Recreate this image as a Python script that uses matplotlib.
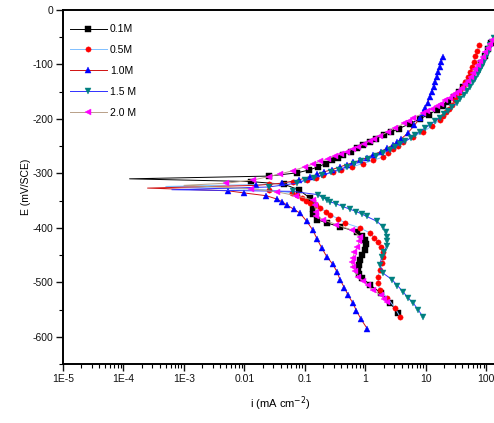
import numpy as np
import matplotlib
matplotlib.use("Agg")
import matplotlib.pyplot as plt
from matplotlib.ticker import FixedLocator, LogLocator, NullFormatter, MultipleLocator

plt.rcParams["font.family"] = ["Liberation Sans", "DejaVu Sans"]
plt.rcParams["axes.unicode_minus"] = False

# potential (mV/SCE) and current density (mA cm^-2),
# ordered from the cathodic end through E_corr to the anodic end
E_01 = [-556, -538, -519, -505, -492, -485, -477, -468, -459, -450, -440, -430, -422, -415,
        -407, -398, -391, -385, -375, -365, -354, -345, -330, -320, -315, -310,
        -305, -299, -294, -288, -282, -276, -271, -266, -260, -254, -248, -242, -236,
        -230, -224, -218, -209, -200, -192, -183, -176, -169, -160, -150, -142, -134,
        -122, -110, -97, -85, -72, -60]
i_01 = [3.47, 2.57, 1.78, 1.20, 0.89, 0.79, 0.76, 0.78, 0.83, 0.89, 1.00, 1.02, 1.00, 0.89,
        0.72, 0.38, 0.23, 0.16, 0.138, 0.135, 0.135, 0.12, 0.079, 0.045, 0.0126, 1.26e-4,
        0.025, 0.074, 0.115, 0.166, 0.22, 0.28, 0.35, 0.43, 0.57, 0.74, 0.93, 1.17, 1.50,
        2.0, 2.7, 3.55, 5.4, 7.9, 11.2, 15.1, 19.0, 22.9, 29.0, 35.5, 41.5, 47.9,
        59.0, 70.8, 82, 93.3, 107, 120]

E_05 = [-563, -547, -528, -514, -502, -490, -477, -464, -454, -444, -435, -426, -418, -409,
        -400, -391, -383, -376, -370, -363, -358, -354, -350, -345, -340, -336, -330, -324,
        -320, -316, -312, -308, -303, -298, -294, -288, -282, -276, -270, -263, -256,
        -249, -242, -233, -224, -213, -202, -195, -188, -181, -174, -166, -158, -150,
        -141, -132, -123, -114, -105, -95, -85, -75, -64]
i_05 = [3.72, 3.09, 2.29, 1.74, 1.62, 1.62, 1.74, 1.91, 1.95, 1.95, 1.82, 1.62, 1.41, 1.17,
        0.81, 0.46, 0.35, 0.26, 0.22, 0.178, 0.15, 0.12, 0.105, 0.089, 0.075, 0.062, 0.025, 5.0e-4,
        0.025, 0.063, 0.107, 0.15, 0.20, 0.29, 0.40, 0.60, 0.90, 1.35, 1.95, 2.4, 2.88,
        3.5, 4.17, 6.03, 8.91, 12.6, 17.0, 19.1, 21.4, 24.0, 26.9, 30.0, 33.1, 36.8,
        40.7, 44.7, 49.0, 53.0, 57.5, 61.7, 66.1, 71, 75.9]

E_10 = [-585, -568, -552, -538, -524, -510, -495, -481, -467, -453, -437, -420, -404, -388,
        -373, -366, -358, -352, -347, -341, -336, -332, -327,
        -322, -318, -312, -306, -302, -297, -293, -288, -284, -280, -276, -271, -266,
        -260, -254, -248, -243, -237, -226, -212, -198, -189, -180, -170, -159, -150,
        -141, -132, -123, -114, -105, -95, -86]
i_10 = [1.07, 0.85, 0.71, 0.62, 0.52, 0.45, 0.38, 0.34, 0.29, 0.23, 0.19, 0.158, 0.135, 0.107,
        0.083, 0.066, 0.050, 0.042, 0.034, 0.023, 0.010, 0.0054, 2.5e-4,
        0.0158, 0.042, 0.079, 0.12, 0.16, 0.21, 0.28, 0.38, 0.49, 0.63, 0.81, 1.05, 1.35,
        1.78, 2.25, 2.82, 3.3, 3.89, 5.01, 6.46, 7.94, 8.9, 9.77, 10.7, 11.7, 12.6,
        13.5, 14.3, 15.1, 16.0, 17.0, 18.0, 19.1]

E_15 = [-563, -550, -538, -528, -517, -506, -495, -483, -468, -453, -444, -434, -425, -416,
        -407, -398, -388, -379, -375, -370, -366, -361, -356, -352, -348, -345, -339, -333, -330,
        -325, -318, -313, -308, -303, -298, -293, -288, -283, -278, -273, -268, -263,
        -257, -252, -246, -241, -235, -230, -224, -217, -211, -204, -198, -191, -185,
        -178, -171, -163, -156, -148, -141, -133, -126, -118, -110, -102, -95, -87,
        -79, -72, -65, -58, -51]
i_15 = [8.91, 7.41, 6.17, 5.01, 4.17, 3.39, 2.75, 1.95, 1.74, 1.86, 2.04, 2.24, 2.29, 2.29,
        2.19, 1.95, 1.55, 1.05, 0.88, 0.71, 0.56, 0.43, 0.33, 0.26, 0.23, 0.20, 0.162, 0.063, 6.3e-4,
        0.025, 0.074, 0.10, 0.141, 0.195, 0.27, 0.36, 0.49, 0.64, 0.85, 1.12, 1.48, 1.95,
        2.51, 3.1, 3.80, 4.6, 5.62, 6.6, 7.94, 9.6, 11.7, 14.1, 17.0, 20.0, 23.4,
        27.5, 32.4, 37.2, 42.7, 48.0, 53.7, 60, 66.1, 72, 77.6, 84, 91.2, 98,
        105, 111, 117, 125, 132]

E_20 = [-536, -530, -523, -514, -505, -498, -490, -480, -471, -463, -455, -445, -435, -425,
        -416, -404, -394, -385, -379, -370, -358, -349, -341, -334, -328, -322,
        -318, -312, -306, -301, -295, -288, -283, -278, -273, -268, -264, -260, -255,
        -251, -246, -241, -236, -231, -224, -217, -208, -203, -198, -190, -186, -182,
        -177, -172, -166, -161, -156, -152, -148, -143, -136, -130, -123, -116, -108,
        -101, -93, -86, -78, -70, -62, -55]
i_20 = [2.29, 2.04, 1.78, 1.32, 1.10, 0.93, 0.76, 0.68, 0.62, 0.59, 0.62, 0.66, 0.74, 0.79,
        0.81, 0.59, 0.33, 0.20, 0.155, 0.151, 0.145, 0.138, 0.071, 0.035, 0.0126, 0.001,
        0.0050, 0.0141, 0.025, 0.039, 0.063, 0.10, 0.135, 0.178, 0.24, 0.32, 0.40, 0.50, 0.62,
        0.76, 0.95, 1.17, 1.41, 1.74, 2.34, 3.09, 4.37, 5.2, 6.17, 8.91, 10.6, 12.6,
        15.0, 17.8, 21.1, 25.1, 28.2, 31.6, 35.5, 39.8, 45, 50.1, 55, 60.3, 66,
        72.4, 79, 87.1, 96, 105, 114, 123]

labels = ["0.1M", "0.5M", "1.0M", "1.5 M", "2.0 M"]
line_colors = ["#000000", "#7fbfff", "#d01010", "#3030ff", "#b8a088"]
marker_colors = ["#000000", "#ff0000", "#0000ff", "#008080", "#ff00ff"]
markers = ["s", "o", "^", "v", "<"]

xtick_vals = [1e-5, 1e-4, 1e-3, 1e-2, 1e-1, 1, 10, 100]
xtick_labels = ["1E-5", "1E-4", "1E-3", "0.01", "0.1", "1", "10", "100"]

series = [(E_01, i_01), (E_05, i_05), (E_10, i_10), (E_15, i_15), (E_20, i_20)]

fig = plt.figure(figsize=(4.94, 4.23), dpi=100)
ax = fig.add_axes([63 / 494, 59 / 423, 434 / 494, 354 / 423])

for (E, cur), lab, lc, mc, mk in zip(series, labels, line_colors, marker_colors, markers):
    cur = np.asarray(cur)
    tip = int(np.argmin(cur))
    every = [k for k in range(len(cur)) if k != tip]
    ax.plot(cur, E, color=lc, lw=0.7, marker=mk, markersize=3.8,
            markerfacecolor=mc, markeredgecolor=mc, markeredgewidth=0.3,
            markevery=every, label=lab)

ax.set_xscale("log")
ax.set_xlim(1e-5, 150)
ax.set_ylim(-650, 0)

ax.xaxis.set_major_locator(FixedLocator(xtick_vals))
ax.set_xticklabels(xtick_labels)
ax.xaxis.set_minor_locator(LogLocator(base=10, subs=np.arange(2, 10), numticks=20))
ax.xaxis.set_minor_formatter(NullFormatter())
ax.yaxis.set_major_locator(MultipleLocator(100))
ax.yaxis.set_minor_locator(MultipleLocator(50))

ax.tick_params(which="major", direction="out", length=5, width=1.0, labelsize=7.5,
               pad=2, colors="#111111")
ax.tick_params(which="minor", direction="out", length=3, width=0.8)
ax.tick_params(top=False, right=False)

for side in ["left", "bottom", "top"]:
    ax.spines[side].set_linewidth(1.4)
ax.spines["right"].set_visible(False)

ax.set_xlabel("i (mA cm$^{-2}$)", fontsize=8, labelpad=8)
ax.set_ylabel("E (mV/SCE)", fontsize=7.5, labelpad=1)

ax.legend(loc="upper left", bbox_to_anchor=(0.016, 0.960), frameon=False, fontsize=7.5,
          handlelength=3.55, handletextpad=0.3, labelspacing=1.05, borderpad=0,
          borderaxespad=0, numpoints=1, markerscale=1.0)

fig.savefig("out.png", dpi=100)
